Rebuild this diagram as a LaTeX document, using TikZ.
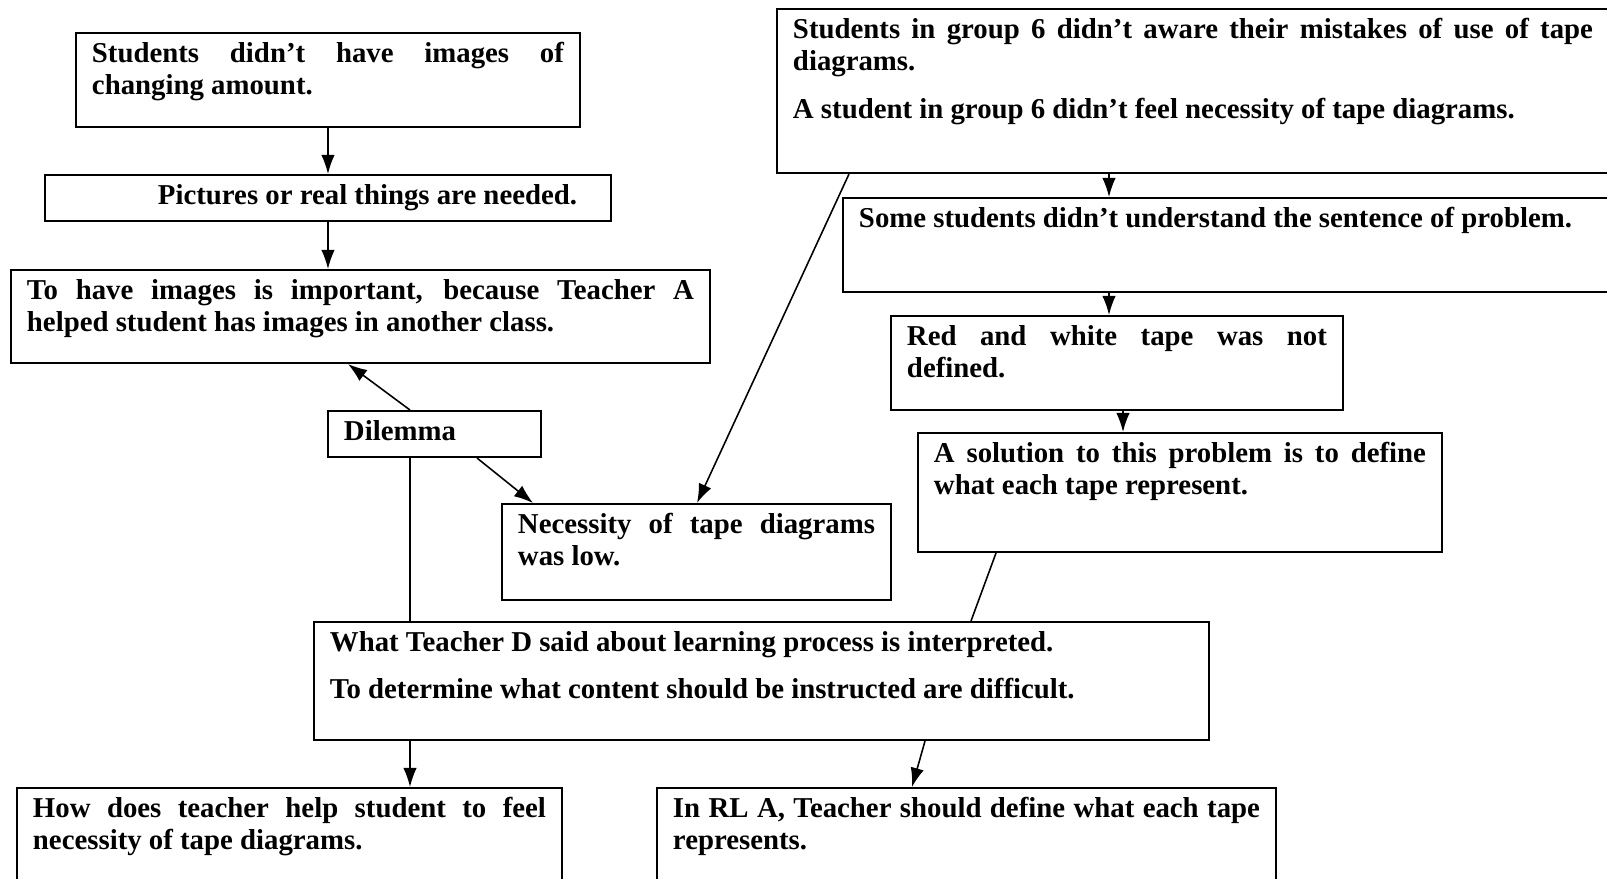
\documentclass[tikz,border=0pt]{standalone}
\usepackage{fontspec}
\setmainfont{Liberation Serif}
\usetikzlibrary{arrows.meta,calc}

\newlength\pxu
\setlength\pxu{0.4445pt}
% text of a box: width, height (in px), content
\newcommand{\boxtxt}[3]{\parbox[t][#2\pxu][t]{#1\pxu}{\sloppy\hyphenpenalty=10000\setlength\parskip{6.5pt}\rule{0pt}{13pt}#3}}

\tikzset{
  note/.style={draw, line width=0.9pt, anchor=north west, inner xsep=7.1pt, inner ysep=0pt,
    font=\fontsize{12.8}{14.5}\selectfont\bfseries},
  link/.style={line width=0.7pt},
  flow/.style={link, -{Latex[length=8.5pt,width=6pt]}}
}

\begin{document}
\begin{tikzpicture}[x=0.4445pt, y=-0.4445pt]
    \useasboundingbox (0,0) rectangle (1607,878);

    % Left chain
    \node[note] (img) at (75,32) {\boxtxt{472}{94}{Students didn't have images of\linebreak changing amount.}};
    \node[note] (pic) at (44,174) {\boxtxt{534}{46}{\hspace*{97\pxu}Pictures or real things are needed.}};
    \node[note] (imp) at (10,269) {\boxtxt{667}{93}{To have images is important, because Teacher A\linebreak helped student has images in another class.}};
    \node[note] (dil) at (327,410) {\boxtxt{181}{46}{Dilemma}};
    \node[note] (nec) at (501,503) {\boxtxt{357}{96}{Necessity of tape diagrams\linebreak was low.}};

    % Right chain
    \node[note] (grp) at (776,8) {\boxtxt{800}{164}{Students in group 6 didn't aware their mistakes of use of tape\linebreak diagrams.\par A student in group 6 didn't feel necessity of tape diagrams.}};
    \node[note] (sen) at (842,197) {\boxtxt{760}{94}{Some students didn't understand the sentence of problem.}};
    \node[note] (red) at (890,315) {\boxtxt{420}{94}{Red and white tape was not\linebreak defined.}};
    \node[note] (sol) at (917,432) {\boxtxt{492}{119}{A solution to this problem is to define\linebreak what each tape represent.}};

    % Bottom
    \node[note] (tcd) at (313,621) {\boxtxt{863}{118}{What Teacher D said about learning process is interpreted.\par To determine what content should be instructed are difficult.}};
    \node[note] (how) at (16,787) {\boxtxt{513}{110}{How does teacher help student to feel\linebreak necessity of tape diagrams.}};
    \node[note] (rla) at (656,787) {\boxtxt{587}{110}{In RL A, Teacher should define what each tape\linebreak represents.}};

    % Arrows
    \draw[flow] (img.south) -- (img.south |- pic.north);
    \draw[flow] (pic.south) -- (pic.south |- imp.north);
    \draw[flow] ($(dil.north west)+(83,0)$) -- ($(imp.south west)+(338,0)$);
    \draw[flow] ($(dil.south west)+(150,0)$) -- ($(nec.north west)+(32,0)$);
    \draw[flow] ($(grp.south west)+(73,0)$) -- ($(nec.north west)+(196,0)$);
    \draw[flow] ($(grp.south west)+(333,0)$) -- ($(sen.north west)+(267,0)$);
    \draw[flow] ($(sen.south west)+(267,0)$) -- ($(red.north west)+(219,0)$);
    \draw[flow] ($(red.south west)+(233,0)$) -- ($(sol.north west)+(206,0)$);
    \draw[link] ($(sol.south west)+(79,0)$) -- ($(tcd.north west)+(658,0)$);
    \draw[link] ($(dil.south west)+(83,0)$) -- ($(tcd.north west)+(97,0)$);
    \draw[flow] ($(tcd.south west)+(97,0)$) -- ($(how.north west)+(394,0)$);
    \draw[flow] ($(tcd.south west)+(612,0)$) -- ($(rla.north west)+(256,0)$);

\end{tikzpicture}
\end{document}
